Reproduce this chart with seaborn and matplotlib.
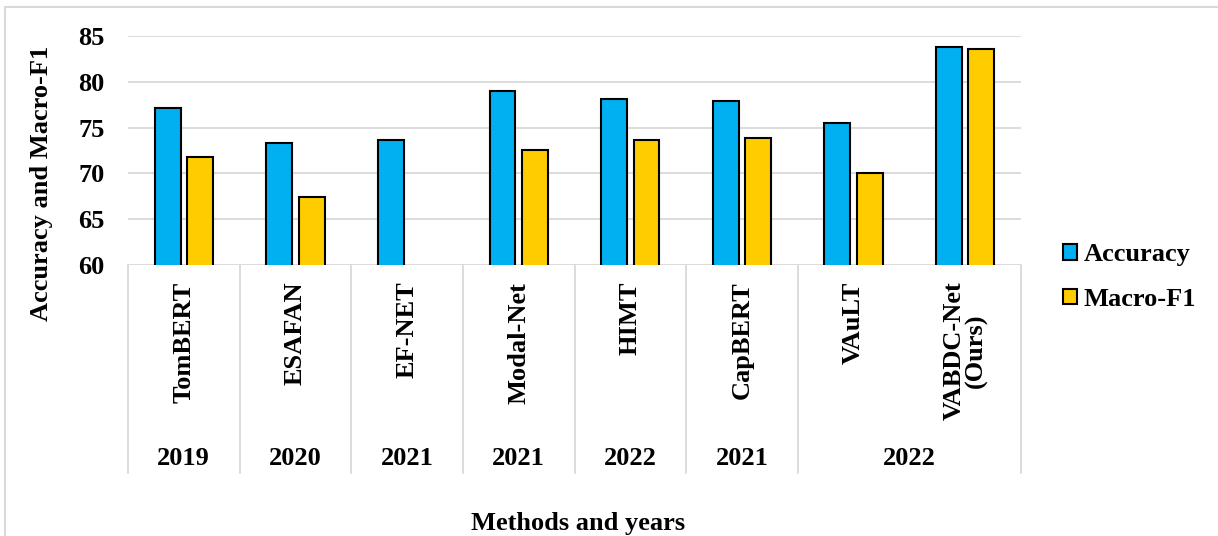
import numpy as np
import pandas as pd
import matplotlib
matplotlib.use("Agg")
import matplotlib.pyplot as plt
from matplotlib.patches import Patch, Rectangle
import seaborn as sns

# ---- data ----
methods = ["TomBERT", "ESAFAN", "EF-NET", "Modal-Net", "HIMT", "CapBERT", "VAuLT", "VABDC-Net\n(Ours)"]
accuracy = [77.15, 73.35, 73.6, 79.0, 78.1, 77.95, 75.55, 83.78]
macro_f1 = [71.75, 67.4, np.nan, 72.5, 73.65, 73.9, 70.0, 83.6]
year_labels = ["2019", "2020", "2021", "2021", "2022", "2021", "2022"]
year_spans = [1, 1, 1, 1, 1, 1, 2]
series = ["Accuracy", "Macro-F1"]
colors = ["#00B0F0", "#FFCC00"]

df = pd.DataFrame({
    "Method": methods * 2,
    "Metric": [series[0]] * len(methods) + [series[1]] * len(methods),
    "Value": accuracy + macro_f1,
})

sns.set_style("white")
plt.rcParams["font.family"] = ["Liberation Serif", "DejaVu Serif"]
plt.rcParams["font.weight"] = "bold"
plt.rcParams["text.color"] = "black"
plt.rcParams["axes.labelcolor"] = "black"
plt.rcParams["xtick.color"] = "black"
plt.rcParams["ytick.color"] = "black"

FS = 19
W, H = 1218, 536
fig = plt.figure(figsize=(W / 100, H / 100), dpi=100)
x0, x1, ytop, ybot = 128, 1021, 36, 265
ax = fig.add_axes([x0 / W, 1 - ybot / H, (x1 - x0) / W, (ybot - ytop) / H])

sns.barplot(data=df.dropna(), x="Method", y="Value", hue="Metric", order=methods,
            hue_order=series, palette=colors, saturation=1, width=0.58, gap=0.2,
            edgecolor="black", linewidth=1.5, errorbar=None, ax=ax, legend=False, zorder=3)

ax.set_ylim(60, 85)
ax.set_xlim(-0.5, len(methods) - 0.5)
ax.set_yticks(range(60, 86, 5))
ax.grid(axis="y", color="#D9D9D9", linewidth=1.3, zorder=0)
ax.grid(axis="x", visible=False)
for s in ax.spines.values():
    s.set_visible(False)

ax.tick_params(axis="y", length=0, pad=17, labelsize=FS)
ax.tick_params(axis="x", length=0, pad=12, labelsize=FS)
ax.set_xticks(range(len(methods)))
ax.set_xticklabels(methods, rotation=90, fontweight="bold", linespacing=0.9)
for t in ax.get_yticklabels():
    t.set_fontweight("bold")

# category separator lines and year row
line_bottom = (ybot - 473) / (ybot - ytop)
year_y = (ybot - 459) / (ybot - ytop)
trans = ax.get_xaxis_transform()
bounds = np.concatenate([[0], np.cumsum(year_spans)]) - 0.5
for b in bounds:
    ax.plot([b, b], [0, line_bottom], transform=trans, color="#D9D9D9",
            linewidth=1.3, clip_on=False)
for lab, a, b in zip(year_labels, bounds[:-1], bounds[1:]):
    ax.text((a + b) / 2, year_y, lab, transform=trans, ha="center", va="center",
            fontsize=FS, fontweight="bold")

ax.set_ylabel("Accuracy and Macro-F1", fontsize=FS, fontweight="bold")
ax.yaxis.set_label_coords((53 - x0) / (x1 - x0), (ybot - 183) / (ybot - ytop))
ax.set_xlabel("Methods and years", fontsize=FS, fontweight="bold")
ax.xaxis.set_label_coords((578 - x0) / (x1 - x0), (ybot - 512) / (ybot - ytop))

handles = [Patch(facecolor=c, edgecolor="black", linewidth=1.5, label=s)
           for c, s in zip(colors, series)]
fig.legend(handles=handles, loc="center left", bbox_to_anchor=(1063 / W, 1 - 277 / H),
           frameon=False, prop={"weight": "bold", "size": FS},
           handlelength=0.52, handleheight=0.52, handletextpad=0.25,
           labelspacing=0.82, borderpad=0, borderaxespad=0)

fig.add_artist(Rectangle((5 / W, -0.02), 1.1, (H - 7) / H + 0.02, transform=fig.transFigure,
                         fill=False, edgecolor="#D9D9D9", linewidth=1.5))

fig.savefig("out.png", dpi=100, facecolor="white")
